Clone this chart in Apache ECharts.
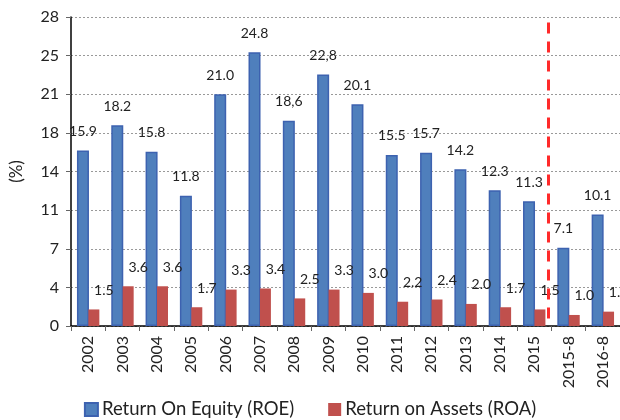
<!DOCTYPE html>
<html>
<head>
<meta charset="utf-8">
<script src="https://cdn.jsdelivr.net/npm/echarts@6/dist/echarts.min.js"></script>
<style>
html,body{margin:0;padding:0;background:#fff;}
#chart{width:620px;height:420px;}
</style>
</head>
<body>
<div id="chart"></div>
<script>
const categories = ['2002','2003','2004','2005','2006','2007','2008','2009','2010','2011','2012','2013','2014','2015','2015-8','2016-8'];
const roeValues = [15.9, 18.2, 15.8, 11.8, 21.0, 24.8, 18.6, 22.8, 20.1, 15.5, 15.7, 14.2, 12.3, 11.3, 7.1, 10.1];
const roeLabels = ['15.9','18.2','15.8','11.8','21.0','24.8','18,6','22,8','20.1','15.5','15.7','14.2','12.3','11.3','7.1','10.1'];
const roaValues = [1.5, 3.6, 3.6, 1.7, 3.3, 3.4, 2.5, 3.3, 3.0, 2.2, 2.4, 2.0, 1.7, 1.5, 1.0, 1.3];
const roaLabels = ['1.5','3.6','3.6','1.7','3.3','3.4','2.5','3.3','3.0','2.2','2.4','2.0','1.7','1.5','1.0','1.3'];
const yTicks = [0, 3.5, 7, 10.5, 14, 17.5, 21, 24.5, 28];
const cutoffPosition = 13.9; // between 2015 and 2015-8, in category units
const cutoffTop = 27.5;

const FONT = 'Lato';
const chart = echarts.init(document.getElementById('chart'), null, {renderer: 'canvas'});
chart.setOption({
  animation: false,
  textStyle: {fontFamily: FONT},
  grid: {left: 68, right: 0, top: 17, bottom: 94, containLabel: false},
  legend: {
    bottom: -4,
    left: 'center',
    itemWidth: 13,
    itemHeight: 13,
    itemGap: 34,
    textStyle: {fontFamily: FONT, fontSize: 18.5, color: '#222', padding: [0, 0, 0, -1]},
    data: [
      {name: 'Return On Equity (ROE)', icon: 'rect'},
      {name: 'Return on Assets (ROA)', icon: 'rect'}
    ]
  },
  xAxis: [{
    type: 'category',
    data: categories,
    axisLine: {lineStyle: {color: '#000', width: 1.5}},
    axisTick: {show: true, length: 5, lineStyle: {color: '#666'}},
    axisLabel: {rotate: 90, fontSize: 16, color: '#222', margin: 10, fontFamily: FONT, interval: 0}
  }, {
    type: 'value', min: 0, max: categories.length, show: false
  }],
  yAxis: {
    type: 'value',
    min: yTicks[0],
    max: yTicks[yTicks.length - 1],
    interval: yTicks[1] - yTicks[0],
    name: '(%)',
    nameLocation: 'middle',
    nameGap: 46,
    nameRotate: 90,
    nameTextStyle: {fontSize: 17, color: '#222', fontFamily: FONT},
    axisLine: {show: true, lineStyle: {color: '#000', width: 1.5}},
    axisTick: {show: true, length: 5, lineStyle: {color: '#666'}},
    axisLabel: {fontSize: 16, color: '#222', margin: 12, fontFamily: FONT, formatter: v => String(Math.round(v))},
    splitLine: {show: true, lineStyle: {color: '#999', type: [2, 2], width: 1}}
  },
  series: [{
    name: 'Return On Equity (ROE)',
    type: 'bar',
    data: roeValues,
    barWidth: 12,
    barGap: '-5%',
    itemStyle: {color: '#4F7FBC', borderColor: '#3D62B0', borderWidth: 1.5},
    label: {
      show: true, position: 'top', distance: 12, fontSize: 14, color: '#222', fontFamily: FONT,
      formatter: p => roeLabels[p.dataIndex]
    }
  }, {
    name: 'Return on Assets (ROA)',
    type: 'bar',
    data: roaValues,
    barWidth: 11,
    itemStyle: {color: '#C0504D'},
    label: {
      show: true, position: 'top', distance: 12, offset: [10, 0], fontSize: 14, color: '#222', fontFamily: FONT,
      formatter: p => roaLabels[p.dataIndex]
    }
  }, {
    name: 'cutoff',
    type: 'line',
    xAxisIndex: 1,
    data: [],
    silent: true,
    markLine: {
      symbol: ['none', 'none'],
      silent: true,
      label: {show: false},
      lineStyle: {color: '#FF2A2A', width: 3, type: [11, 8]},
      data: [[{coord: [cutoffPosition, cutoffTop]}, {coord: [cutoffPosition, 0]}]]
    }
  }]
});
</script>
</body>
</html>
